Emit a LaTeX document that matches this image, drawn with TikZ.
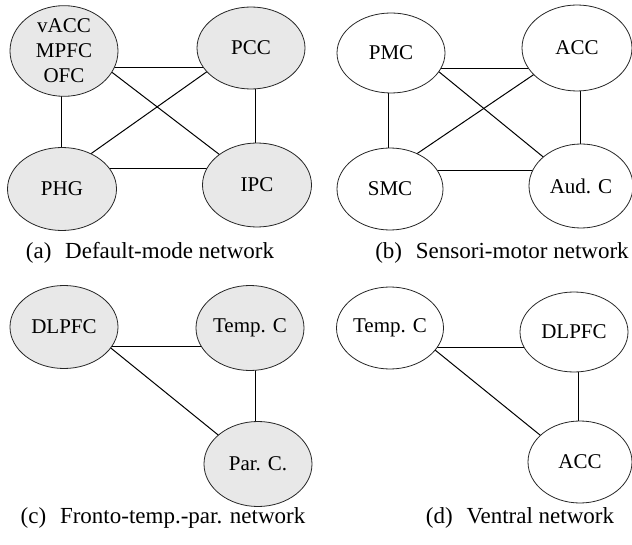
\documentclass[tikz,border=0pt]{standalone}
\usepackage{fontspec}
\setmainfont{Liberation Serif}
\usetikzlibrary{shapes.geometric, backgrounds}
\definecolor{regiongray}{gray}{0.91}

\begin{document}
\begin{tikzpicture}[x=1pt, y=-1pt, region/.style={ellipse,draw=black!85,line width=0.8pt,fill=white,minimum width=108pt,minimum height=83pt,inner sep=0pt,align=center,font=\fontsize{21}{25}\selectfont}, gregion/.style={region,fill=regiongray}, link/.style={-, line width=1pt}, caption/.style={anchor=base,inner sep=0pt,font=\fontsize{23}{27}\selectfont} ]
\useasboundingbox (0,0) rectangle (632,545);
% default-mode
\node (vacc) [gregion, minimum height=84pt] at (64,51) {vACC\\MPFC\\OFC};
\node (pcc) [gregion, minimum height=82pt] at (251,48) {PCC};
\node (phg) [gregion, minimum width=109pt] at (62,189) {PHG};
\node (ipc) [gregion, minimum width=109pt, minimum height=84pt] at (257,185) {IPC};
% sensori-motor
\node (pmc) [region, minimum height=80pt] at (391,53) {PMC};
\node (acc) [region, minimum width=110pt, minimum height=86pt] at (577,48) {ACC};
\node (smc) [region, minimum width=106pt, minimum height=82pt] at (390,189) {SMC};
\node (aud) [region, minimum width=104pt, minimum height=84pt] at (581,186) {Aud. C};
% fronto-temp.-par.
\node (dlpfc) [gregion] at (64,327) {DLPFC};
\node (tempc) [gregion, minimum height=85pt] at (250,328) {Temp. C};
\node (parc) [gregion, minimum height=85pt] at (258,464) {Par. C.};
% ventral
\node (tempd) [region, minimum width=107pt, minimum height=82pt] at (390,328) {Temp. C};
\node (dlpfcd) [region, minimum height=80pt] at (574,332) {DLPFC};
\node (accd) [region, minimum width=104pt, minimum height=82pt] at (580,462) {ACC};
  \begin{scope}[on background layer]
    \draw [link] ([yshift=-17pt]vacc.center) -- ([yshift=-20pt]pcc.center);
    \draw [link] ([yshift=20pt]phg.center) -- ([yshift=16pt]ipc.center);
    \draw [link] ([xshift=-3pt]vacc.center) -- ([xshift=-1pt]phg.center);
    \draw [link] ([xshift=4pt]pcc.center) -- ([xshift=-2pt]ipc.center);
    \draw [link] ([xshift=11pt,yshift=7pt]vacc.center) -- ([xshift=-3pt,yshift=4pt]ipc.center);
    \draw [link] ([xshift=-4pt,yshift=12pt]phg.center) -- ([xshift=-12pt,yshift=-1pt]pcc.center);
  \end{scope}
  \begin{scope}[on background layer]
    \draw [link] ([yshift=-16pt]pmc.center) -- ([yshift=-21pt]acc.center);
    \draw [link] ([yshift=18pt]smc.center) -- ([yshift=15pt]aud.center);
    \draw [link] ([xshift=-3pt]pmc.center) -- ([xshift=-2pt]smc.center);
    \draw [link] ([xshift=3pt]acc.center) -- ([xshift=-1pt]aud.center);
    \draw [link] ([xshift=9pt,yshift=13pt]pmc.center) -- ([xshift=-1pt,yshift=-1pt]aud.center);
    \draw [link] ([xshift=-6pt,yshift=13pt]smc.center) -- ([xshift=-4pt]acc.center);
  \end{scope}
  \begin{scope}[on background layer]
    \draw [link] ([yshift=-20pt]dlpfc.center) -- ([yshift=-19pt]tempc.center);
    \draw [link] ([xshift=5pt]tempc.center) -- ([xshift=-3pt]parc.center);
    \draw [link] ([xshift=11pt,yshift=8pt]dlpfc.center) -- ([xshift=-4pt]parc.center);
    \draw [link] ([yshift=-20pt]tempd.center) -- ([yshift=-16pt]dlpfcd.center);
    \draw [link] ([xshift=4pt]dlpfcd.center) -- ([xshift=-2pt]accd.center);
    \draw [link] ([xshift=8pt,yshift=8pt]tempd.center) -- ([xshift=-3pt,yshift=-3pt]accd.center);
  \end{scope}
\node (capa) [caption] at (150,259) {(a)\hspace{0.6em}Default-mode network};
\node (capb) [caption] at (502,259) {(b)\hspace{0.6em}Sensori-motor network};
\node (capc) [caption] at (163,523) {(c)\hspace{0.6em}Fronto-temp.-par. network};
\node (capd) [caption] at (520,523) {(d)\hspace{0.6em}Ventral network};
\end{tikzpicture}
\end{document}
